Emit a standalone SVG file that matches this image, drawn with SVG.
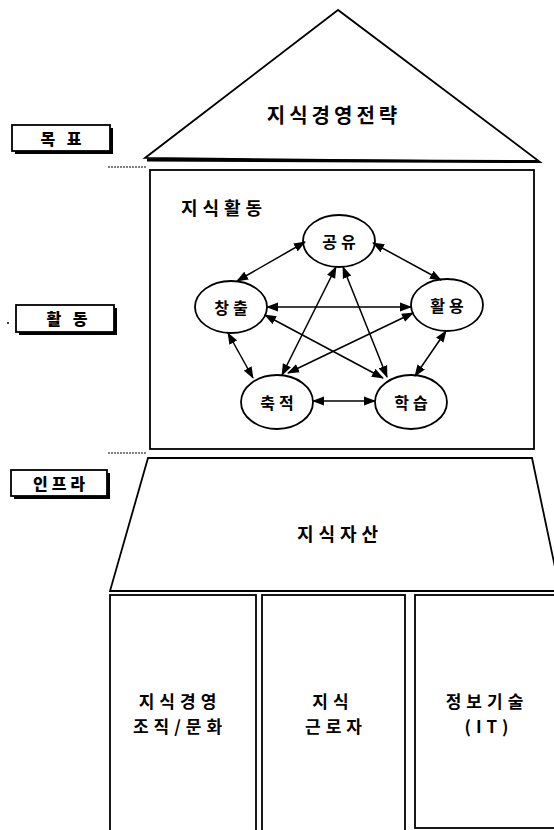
<svg xmlns="http://www.w3.org/2000/svg" width="554" height="830" viewBox="0 0 554 830">
<defs>
<marker id="ah" viewBox="0 0 12 10" refX="11" refY="5" markerWidth="12" markerHeight="10" markerUnits="userSpaceOnUse" orient="auto-start-reverse">
<path d="M0,0.5 L12,5 L0,9.5 z" fill="#000"/>
</marker>
<style>
text{font-family:"Noto Sans CJK KR","Noto Sans",sans-serif;font-weight:bold;fill:#000;text-anchor:middle;dominant-baseline:central}
.t{font-size:18px;letter-spacing:5px}
.lbl{font-size:16px;letter-spacing:4px;font-weight:900}
.n{font-size:16px;letter-spacing:4px}
.b{font-size:17px;letter-spacing:5px}
.shape{fill:#fff;stroke:#000;stroke-width:1.8}
.sh{fill:#000}
.dot{stroke:#000;stroke-width:1;stroke-dasharray:2 1}
.c line{stroke:#000;stroke-width:1.5;marker-start:url(#ah);marker-end:url(#ah)}
</style>
</defs>
<rect width="554" height="830" fill="#fff"/>

<g id="goal-label">
<rect class="sh" x="15" y="128" width="98" height="26"/>
<rect class="shape" x="12" y="125" width="98" height="26" stroke-width="1.5"/>
<text class="lbl" x="63" y="138">목 표</text>
</g>
<g id="activity-label">
<rect class="sh" x="19" y="308" width="98" height="27"/>
<rect class="shape" x="16" y="305" width="98" height="27" stroke-width="1.5"/>
<text class="lbl" x="69" y="318">활 동</text>
</g>
<g id="infra-label">
<rect class="sh" x="14" y="473" width="96" height="26"/>
<rect class="shape" x="11" y="470" width="96" height="26" stroke-width="1.5"/>
<text class="lbl" x="61" y="483">인프라</text>
</g>
<circle cx="8" cy="323" r="1" fill="#000"/>

<line class="dot" x1="108" y1="167" x2="146" y2="167"/>
<line class="dot" x1="108" y1="453" x2="147" y2="453"/>

<g id="strategy">
<polygon class="shape" points="338,10 145,158 540,162"/>
<line x1="147" y1="160" x2="538" y2="161.5" stroke="#000" stroke-width="3"/>
<text class="t" x="334" y="114" style="font-size:20px;letter-spacing:4px">지식경영전략</text>
</g>

<g id="activity">
<rect class="shape" x="150" y="170" width="384" height="279"/>
<text class="t" x="224" y="207">지식활동</text>
</g>

<g id="share"><ellipse class="shape" cx="339" cy="241" rx="36" ry="26"/><text class="n" x="341" y="241">공유</text></g>
<g id="create"><ellipse class="shape" cx="231" cy="307" rx="36" ry="26"/><text class="n" x="233" y="307">창출</text></g>
<g id="use"><ellipse class="shape" cx="447" cy="305" rx="36" ry="26"/><text class="n" x="449" y="305">활용</text></g>
<g id="accumulate"><ellipse class="shape" cx="277" cy="402" rx="36" ry="27"/><text class="n" x="279" y="402">축적</text></g>
<g id="learn"><ellipse class="shape" cx="411" cy="402" rx="36" ry="27"/><text class="n" x="413" y="402">학습</text></g>

<g id="connectors" class="c">
<line x1="305" y1="242" x2="237" y2="281"/>
<line x1="373" y1="243" x2="441" y2="280"/>
<line x1="228" y1="333" x2="253" y2="378"/>
<line x1="446" y1="331" x2="415" y2="376"/>
<line x1="313" y1="401" x2="375" y2="401"/>
<line x1="267" y1="307" x2="411" y2="307"/>
<line x1="265" y1="315" x2="383" y2="378"/>
<line x1="413" y1="313" x2="288" y2="373"/>
<line x1="336" y1="267" x2="282" y2="375"/>
<line x1="343" y1="267" x2="387" y2="377"/>
</g>

<g id="assets">
<polygon class="shape" points="148,458 532,458 560,591 110,591"/>
<text class="t" x="340" y="533">지식자산</text>
</g>

<g id="org">
<rect class="shape" x="110" y="595" width="146" height="240"/>
<text class="b" x="180" y="700">지식경영</text>
<text class="b" x="180" y="725">조직/문화</text>
</g>
<g id="worker">
<rect class="shape" x="262" y="595" width="143" height="240"/>
<text class="b" x="333" y="700">지식</text>
<text class="b" x="336" y="725">근로자</text>
</g>
<g id="it">
<rect class="shape" x="415" y="595" width="145" height="233"/>
<text class="b" x="487" y="700">정보기술</text>
<text class="b" x="489" y="725">(IT)</text>
</g>
</svg>
